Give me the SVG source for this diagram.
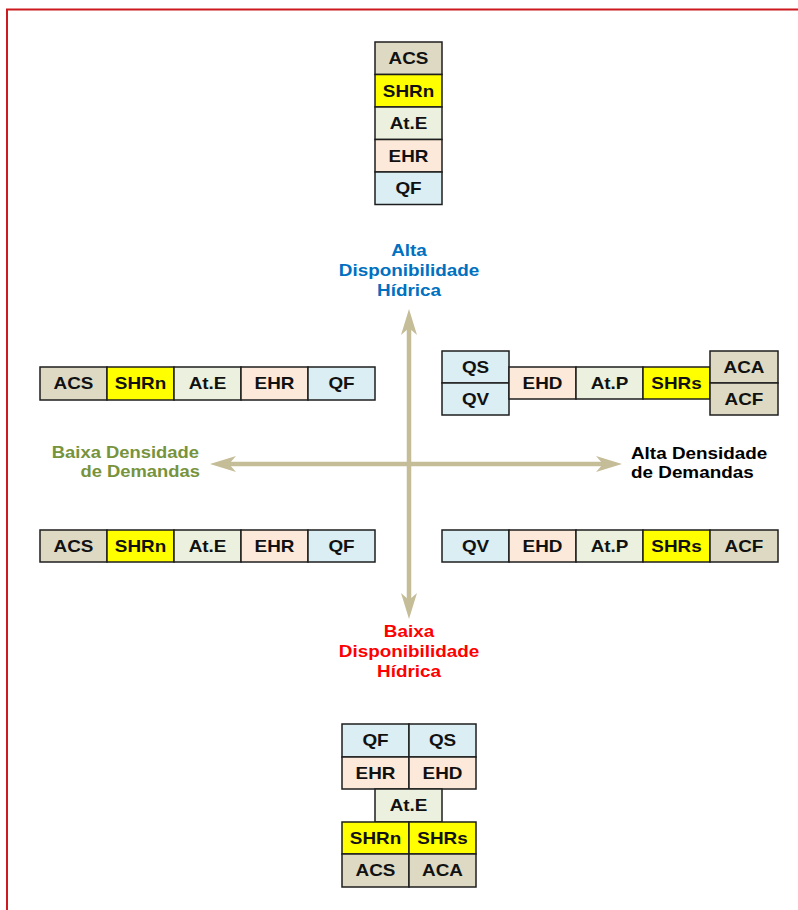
<svg xmlns="http://www.w3.org/2000/svg" width="798" height="910" viewBox="0 0 798 910">
  <style>
    .c { stroke: #1e1e1e; stroke-width: 1.5; }
    .acs { fill: #DDD9C3; }
    .shr { fill: #FFFF00; }
    .at { fill: #EBF1DE; }
    .eh { fill: #FDE9D9; }
    .q { fill: #DAEEF3; }
    text { font-family: "Liberation Sans", Arial, sans-serif; font-weight: bold; font-size: 16px; }
    .t { text-anchor: middle; fill: #111; }
    .axis { stroke: #C4BD97; stroke-width: 4.5; fill: none; }
    .head { fill: #C4BD97; }
  </style>

  <!-- frame -->
  <rect x="7" y="9.5" width="800" height="910" fill="#fff" stroke="#CC1A1F" stroke-width="2"/>

  <!-- axes -->
  <g id="connectors">
    <line class="axis" x1="227" y1="464" x2="605" y2="464"/>
    <line class="axis" x1="409" y1="326" x2="409" y2="602"/>
    <polygon class="head" points="210,464 236,456 229,464 236,472"/>
    <polygon class="head" points="622,464 596,456 603,464 596,472"/>
    <polygon class="head" points="409,309 401,335 409,328 417,335"/>
    <polygon class="head" points="409,619 401,593 409,600 417,593"/>
  </g>

  <!-- axis labels -->
  <g id="label-alta-disp">
    <text class="t" transform="translate(409 256) scale(1.18 1)" style="fill:#0070C0">Alta</text>
    <text class="t" transform="translate(409 276) scale(1.18 1)" style="fill:#0070C0">Disponibilidade</text>
    <text class="t" transform="translate(409 296) scale(1.18 1)" style="fill:#0070C0">Hídrica</text>
  </g>
  <g id="label-baixa-disp">
    <text class="t" transform="translate(409 637) scale(1.18 1)" style="fill:#FF0000">Baixa</text>
    <text class="t" transform="translate(409 657) scale(1.18 1)" style="fill:#FF0000">Disponibilidade</text>
    <text class="t" transform="translate(409 677) scale(1.18 1)" style="fill:#FF0000">Hídrica</text>
  </g>
  <g id="label-baixa-dens">
    <text transform="translate(199 458) scale(1.15 1)" text-anchor="end" style="fill:#77933C">Baixa Densidade</text>
    <text transform="translate(200 477) scale(1.15 1)" text-anchor="end" style="fill:#77933C">de Demandas</text>
  </g>
  <g id="label-alta-dens">
    <text transform="translate(631 459) scale(1.18 1)" style="fill:#000">Alta Densidade</text>
    <text transform="translate(631 478) scale(1.18 1)" style="fill:#000">de Demandas</text>
  </g>

  <!-- top stack -->
  <g id="stack-top">
    <rect class="c acs" x="375" y="42" width="67" height="32.5"/>
    <text class="t" transform="translate(408.5 64) scale(1.18 1)">ACS</text>
    <rect class="c shr" x="375" y="74.5" width="67" height="32.5"/>
    <text class="t" transform="translate(408.5 96.5) scale(1.18 1)">SHRn</text>
    <rect class="c at" x="375" y="107" width="67" height="32.5"/>
    <text class="t" transform="translate(408.5 129) scale(1.18 1)">At.E</text>
    <rect class="c eh" x="375" y="139.5" width="67" height="32.5"/>
    <text class="t" transform="translate(408.5 161.5) scale(1.18 1)">EHR</text>
    <rect class="c q" x="375" y="172" width="67" height="32.5"/>
    <text class="t" transform="translate(408.5 194) scale(1.18 1)">QF</text>
  </g>

  <!-- upper-left row -->
  <g id="row-upper-left">
    <rect class="c acs" x="40" y="367" width="67" height="33"/>
    <text class="t" transform="translate(73.5 389.3) scale(1.18 1)">ACS</text>
    <rect class="c shr" x="107" y="367" width="67" height="33"/>
    <text class="t" transform="translate(140.5 389.3) scale(1.18 1)">SHRn</text>
    <rect class="c at" x="174" y="367" width="67" height="33"/>
    <text class="t" transform="translate(207.5 389.3) scale(1.18 1)">At.E</text>
    <rect class="c eh" x="241" y="367" width="67" height="33"/>
    <text class="t" transform="translate(274.5 389.3) scale(1.18 1)">EHR</text>
    <rect class="c q" x="308" y="367" width="67" height="33"/>
    <text class="t" transform="translate(341.5 389.3) scale(1.18 1)">QF</text>
  </g>

  <!-- lower-left row -->
  <g id="row-lower-left">
    <rect class="c acs" x="40" y="530" width="67" height="32"/>
    <text class="t" transform="translate(73.5 551.8) scale(1.18 1)">ACS</text>
    <rect class="c shr" x="107" y="530" width="67" height="32"/>
    <text class="t" transform="translate(140.5 551.8) scale(1.18 1)">SHRn</text>
    <rect class="c at" x="174" y="530" width="67" height="32"/>
    <text class="t" transform="translate(207.5 551.8) scale(1.18 1)">At.E</text>
    <rect class="c eh" x="241" y="530" width="67" height="32"/>
    <text class="t" transform="translate(274.5 551.8) scale(1.18 1)">EHR</text>
    <rect class="c q" x="308" y="530" width="67" height="32"/>
    <text class="t" transform="translate(341.5 551.8) scale(1.18 1)">QF</text>
  </g>

  <!-- upper-right row -->
  <g id="row-upper-right">
    <rect class="c q" x="442" y="351" width="67" height="32"/>
    <text class="t" transform="translate(475.5 372.8) scale(1.18 1)">QS</text>
    <rect class="c q" x="442" y="383" width="67" height="32"/>
    <text class="t" transform="translate(475.5 404.8) scale(1.18 1)">QV</text>
    <rect class="c eh" x="509" y="367" width="67" height="32"/>
    <text class="t" transform="translate(542.5 388.8) scale(1.18 1)">EHD</text>
    <rect class="c at" x="576" y="367" width="67" height="32"/>
    <text class="t" transform="translate(609.5 388.8) scale(1.18 1)">At.P</text>
    <rect class="c shr" x="643" y="367" width="67" height="32"/>
    <text class="t" transform="translate(676.5 388.8) scale(1.18 1)">SHRs</text>
    <rect class="c acs" x="710" y="351" width="68" height="32"/>
    <text class="t" transform="translate(744 372.8) scale(1.18 1)">ACA</text>
    <rect class="c acs" x="710" y="383" width="68" height="32"/>
    <text class="t" transform="translate(744 404.8) scale(1.18 1)">ACF</text>
  </g>

  <!-- lower-right row -->
  <g id="row-lower-right">
    <rect class="c q" x="442" y="530" width="67" height="32"/>
    <text class="t" transform="translate(475.5 551.8) scale(1.18 1)">QV</text>
    <rect class="c eh" x="509" y="530" width="67" height="32"/>
    <text class="t" transform="translate(542.5 551.8) scale(1.18 1)">EHD</text>
    <rect class="c at" x="576" y="530" width="67" height="32"/>
    <text class="t" transform="translate(609.5 551.8) scale(1.18 1)">At.P</text>
    <rect class="c shr" x="643" y="530" width="67" height="32"/>
    <text class="t" transform="translate(676.5 551.8) scale(1.18 1)">SHRs</text>
    <rect class="c acs" x="710" y="530" width="68" height="32"/>
    <text class="t" transform="translate(744 551.8) scale(1.18 1)">ACF</text>
  </g>

  <!-- bottom stack -->
  <g id="stack-bottom">
    <rect class="c q" x="342" y="724" width="67" height="33"/>
    <text class="t" transform="translate(375.5 746.3) scale(1.18 1)">QF</text>
    <rect class="c q" x="409" y="724" width="67" height="33"/>
    <text class="t" transform="translate(442.5 746.3) scale(1.18 1)">QS</text>
    <rect class="c eh" x="342" y="757" width="67" height="32"/>
    <text class="t" transform="translate(375.5 778.8) scale(1.18 1)">EHR</text>
    <rect class="c eh" x="409" y="757" width="67" height="32"/>
    <text class="t" transform="translate(442.5 778.8) scale(1.18 1)">EHD</text>
    <rect class="c at" x="375" y="789" width="67" height="33"/>
    <text class="t" transform="translate(408.5 811.3) scale(1.18 1)">At.E</text>
    <rect class="c shr" x="342" y="822" width="67" height="32"/>
    <text class="t" transform="translate(375.5 843.8) scale(1.18 1)">SHRn</text>
    <rect class="c shr" x="409" y="822" width="67" height="32"/>
    <text class="t" transform="translate(442.5 843.8) scale(1.18 1)">SHRs</text>
    <rect class="c acs" x="342" y="854" width="67" height="33"/>
    <text class="t" transform="translate(375.5 876.3) scale(1.18 1)">ACS</text>
    <rect class="c acs" x="409" y="854" width="67" height="33"/>
    <text class="t" transform="translate(442.5 876.3) scale(1.18 1)">ACA</text>
  </g>
</svg>
